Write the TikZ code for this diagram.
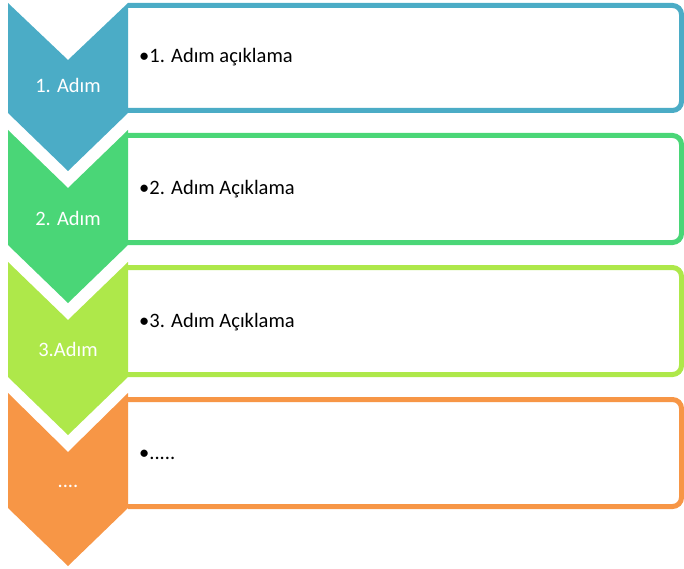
\documentclass[tikz,border=0pt]{standalone}
\usepackage{fontspec}
\setmainfont{Carlito}
\definecolor{cblue}{HTML}{4BACC6}
\definecolor{cgreen}{HTML}{4AD677}
\definecolor{clime}{HTML}{AEE84A}
\definecolor{corange}{HTML}{F79646}
\begin{document}
\begin{tikzpicture}[x=1pt,y=-1pt,
  panel/.style={draw=#1,line width=5pt,fill=white,rounded corners=9pt},
  steplabel/.style={inner sep=0pt,anchor=base,text=white,font=\fontsize{20.5}{24}\selectfont},
  desc/.style={inner sep=0pt,anchor=base west,text=black,font=\fontsize{20.5}{24}\selectfont}]
\useasboundingbox (0,0) rectangle (684,569);
% panels
\path[panel=cblue] (128,5.5) -- (681.5,5.5) -- (681.5,110.5) -- (128,110.5);
\path[panel=cgreen] (128,135.5) -- (681.5,135.5) -- (681.5,242.5) -- (128,242.5);
\path[panel=clime] (128,267.5) -- (681.5,267.5) -- (681.5,374.5) -- (128,374.5);
\path[panel=corange] (128,399.5) -- (681.5,399.5) -- (681.5,506.5) -- (128,506.5);
% chevrons
\fill[cblue] (8,3) -- (68,60) -- (128,3) -- (128,113) -- (68,171) -- (8,113) -- cycle;
\fill[cgreen] (8,130) -- (68,188) -- (128,130) -- (128,245) -- (68,303) -- (8,245) -- cycle;
\fill[clime] (8,262) -- (68,320) -- (128,262) -- (128,377) -- (68,435) -- (8,377) -- cycle;
\fill[corange] (8,393) -- (68,452) -- (128,393) -- (128,508) -- (68,566) -- (8,508) -- cycle;
% labels
\node[steplabel] (l1) at (68,93) {1. Adım};
\node[steplabel] (l2) at (68,225) {2. Adım};
\node[steplabel] (l3) at (68,356) {3.Adım};
\node[steplabel] (l4) at (68,487) {....};
\node[desc] (d1) at (139,63) {•1. Adım açıklama};
\node[desc] (d2) at (139,195) {•2. Adım Açıklama};
\node[desc] (d3) at (139,327) {•3. Adım Açıklama};
\node[desc] (d4) at (139,459) {•.....};
\end{tikzpicture}
\end{document}
